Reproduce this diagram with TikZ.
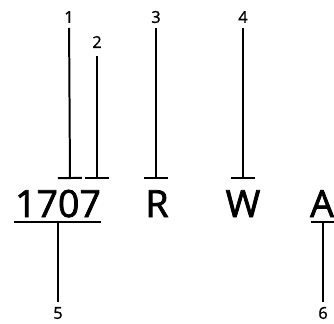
\documentclass[tikz,border=0pt]{standalone}
\usepackage{fontspec}
\setmainfont{Open Sans}
\newfontfamily\heavyfont[FakeBold=2]{Open Sans}
\newfontfamily\midfont[FakeBold=1.2]{Open Sans}
\usetikzlibrary{arrows.meta}

\begin{document}
\begin{tikzpicture}[x=0.03cm,y=-0.03cm,line width=1.7pt,
  num/.style={font=\midfont\fontsize{14}{14}\selectfont},
  code/.style={font=\heavyfont\fontsize{32}{32}\selectfont,inner sep=0pt,anchor=base},
  tick/.style={-{Bar[width=0.72cm,line width=1.7pt]}}]
\useasboundingbox (0,0) rectangle (334,323);
% numbers
\node[num] (n1) at (69,17) {1};
\node[num] (n2) at (97,42) {2};
\node[num] (n3) at (156,17) {3};
\node[num] (n4) at (243,17) {4};
\node[num] (n5) at (58,313) {5};
\node[num] (n6) at (323,313) {6};
% code
\node[code] (c1707) at (58,217) {1707};
\node[code] (cR) at (157,217) {R};
\node[code] (cW) at (243,217) {W};
\node[code] (cA) at (322,217) {A};
\coordinate (u5) at (58,222);
\coordinate (u6) at (323,222);
\draw (14,222) -- (101,222);
\draw (311,222) -- (336,222);
% pointers
\draw[tick] (n1) -- (70,179);
\draw[tick] ([yshift=-0.1cm]n2.south) -- (97,179);
\draw[tick] (n3) -- (156,179);
\draw[tick] (n4) -- (243,179);
\draw (u5) -- (n5);
\draw (u6) -- (n6);
\end{tikzpicture}
\end{document}
